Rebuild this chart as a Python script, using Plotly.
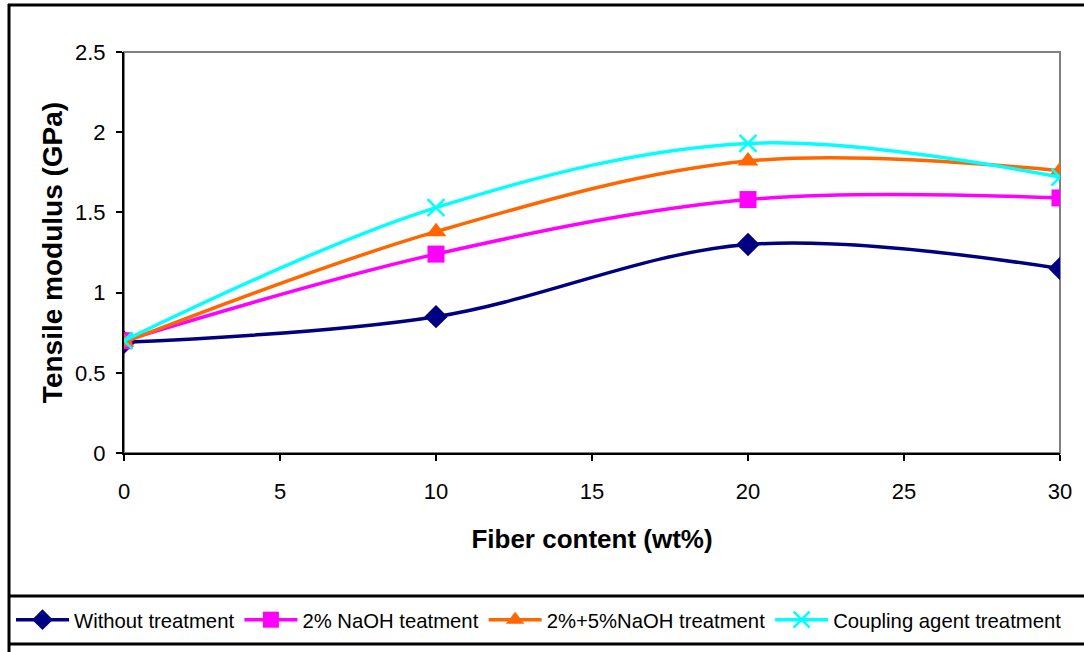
import plotly.graph_objects as go

fiber = [0, 10, 20, 30]
without_treatment = [0.69, 0.85, 1.30, 1.15]
naoh_2 = [0.70, 1.24, 1.58, 1.59]
naoh_2_5 = [0.69, 1.38, 1.82, 1.76]
coupling = [0.70, 1.53, 1.93, 1.72]

names = ["Without treatment", "2% NaOH teatment", "2%+5%NaOH treatment", "Coupling agent treatment"]
colors = ["#000080", "#FF00FF", "#FF6600", "#00FFFF"]
symbols = ["diamond", "square", "triangle-up", "x-thin-open"]
sizes = [18, 17, 18, 17]
series = [without_treatment, naoh_2, naoh_2_5, coupling]

FONT = "Liberation Sans, Arial, sans-serif"

fig = go.Figure()
for name, ys, c, s, sz in zip(names, series, colors, symbols, sizes):
    fig.add_trace(go.Scatter(
        x=fiber, y=ys, name=name, mode="lines+markers",
        line=dict(color=c, width=3.5, shape="spline", smoothing=1.0),
        marker=dict(symbol=s, size=sz, color=c,
                    line=dict(color=c, width=2.5 if s.startswith("x") else 0)),
    ))

W, H = 1084, 652
L, R, T, B = 124, 1060, 52, 453

def px_x(px):
    return (px - L) / (R - L)

def px_y(py):
    return (B - py) / (B - T)

shapes = [
    dict(type="rect", xref="paper", yref="paper", x0=0, x1=1, y0=0, y1=1,
         line=dict(color="#808080", width=2), layer="below"),
    dict(type="line", xref="paper", yref="paper", x0=px_x(8), x1=px_x(1090),
         y0=px_y(5), y1=px_y(5), line=dict(color="black", width=3)),
    dict(type="line", xref="paper", yref="paper", x0=px_x(9), x1=px_x(9),
         y0=px_y(4), y1=px_y(660), line=dict(color="black", width=3)),
    dict(type="line", xref="paper", yref="paper", x0=px_x(8), x1=px_x(1090),
         y0=px_y(596), y1=px_y(596), line=dict(color="black", width=3)),
    dict(type="line", xref="paper", yref="paper", x0=px_x(8), x1=px_x(1090),
         y0=px_y(644), y1=px_y(644), line=dict(color="black", width=3)),
]

fig.update_layout(
    width=W, height=H,
    margin=dict(l=L, r=W - R, t=T, b=H - B, pad=0, autoexpand=False),
    paper_bgcolor="white", plot_bgcolor="white",
    font=dict(family=FONT, color="black", size=20),
    shapes=shapes,
    showlegend=True,
    legend=dict(orientation="h", x=px_x(11), y=px_y(620), xanchor="left", yanchor="middle",
                font=dict(size=20.3, family=FONT), itemwidth=53,
                bgcolor="rgba(0,0,0,0)", borderwidth=0, tracegroupgap=0,
                traceorder="normal"),
    xaxis=dict(range=[0, 30], dtick=5, tick0=0, showgrid=False, zeroline=False,
               showline=True, linecolor="black", linewidth=2,
               ticks="outside", ticklen=6, tickwidth=1.5, tickcolor="black",
               tickfont=dict(size=22, family=FONT), ticklabelstandoff=12,
               title=dict(text="<b>Fiber content (wt%)</b>", font=dict(size=26, family=FONT), standoff=26)),
    yaxis=dict(range=[0, 2.5], dtick=0.5, tick0=0, showgrid=False, zeroline=False,
               showline=True, linecolor="black", linewidth=2,
               ticks="outside", ticklen=6, tickwidth=1.5, tickcolor="black",
               tickfont=dict(size=22, family=FONT), ticklabelstandoff=6,
               title=dict(text="<b>Tensile modulus (GPa)</b>", font=dict(size=28, family=FONT), standoff=4)),
)

fig.write_html("out.html", config={"displayModeBar": False},
               post_script="document.body.style.margin='0';document.body.style.overflow='hidden';")
